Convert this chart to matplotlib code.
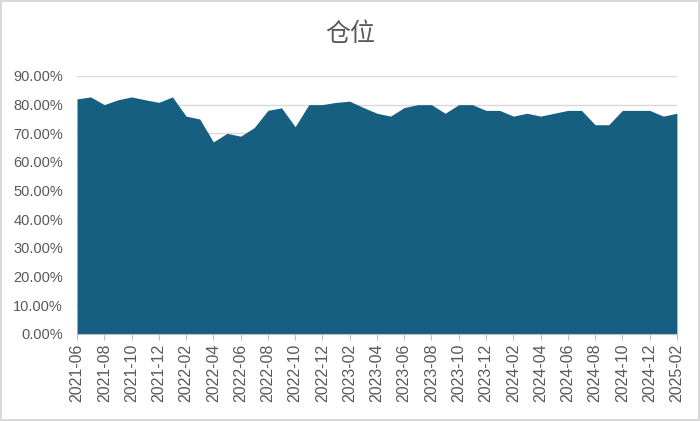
import matplotlib
matplotlib.use("Agg")
import matplotlib.pyplot as plt
from matplotlib.patches import Rectangle
from matplotlib.ticker import PercentFormatter
import pandas as pd

plt.rcParams['font.family'] = ['Liberation Sans Narrow', 'Liberation Sans', 'DejaVu Sans']

# 月度仓位数据
months = pd.period_range('2021-06', '2025-02', freq='M').strftime('%Y-%m').tolist()
position = [82, 82.7, 80, 81.7, 82.7, 81.7, 80.8, 82.7, 76, 75,
            67, 70, 69, 72, 78, 78.9, 72.3, 80, 80, 80.8,
            81.2, 79, 77, 76, 79, 80, 80, 77, 80, 80,
            78, 78, 76, 77, 76, 77, 78, 78, 73, 73,
            78, 78, 78, 76, 77]
position = [v / 100 for v in position]
title = '仓位'

fig = plt.figure(figsize=(7, 4.21), dpi=100)
ax = fig.add_axes([0.11, 0.2067, 0.857, 0.6128])

x = list(range(len(months)))
ax.fill_between(x, position, 0, color='#175F80', linewidth=0)

ax.set_xlim(0, len(months) - 1)
ax.set_ylim(0, 0.9)
ax.set_yticks([i / 10 for i in range(10)])
ax.yaxis.set_major_formatter(PercentFormatter(1.0, decimals=2))
ax.set_xticks(x[::2])
ax.set_xticklabels(months[::2], rotation=90)

ax.grid(axis='y', color='#D9D9D9', linewidth=1)
ax.set_axisbelow(True)
for s in ['top', 'right', 'left']:
    ax.spines[s].set_visible(False)
ax.spines['bottom'].set_color('#BFBFBF')
ax.tick_params(axis='y', length=0, labelsize=10.5, colors='#595959', pad=10)
ax.tick_params(axis='x', length=4, color='#BFBFBF', labelsize=11.5,
               labelcolor='#595959', pad=3)

fig.text(0.5, 0.92, title, ha='center', va='center', fontsize=18,
         color='#595959', fontweight='light',
         family=['Noto Sans CJK SC', 'DejaVu Sans'])

fig.patches.append(Rectangle((0.002, 0.003), 0.996, 0.994, transform=fig.transFigure,
                             fill=False, edgecolor='#D9D9D9', linewidth=1.5))

fig.savefig('out.png', dpi=100, facecolor='white')
